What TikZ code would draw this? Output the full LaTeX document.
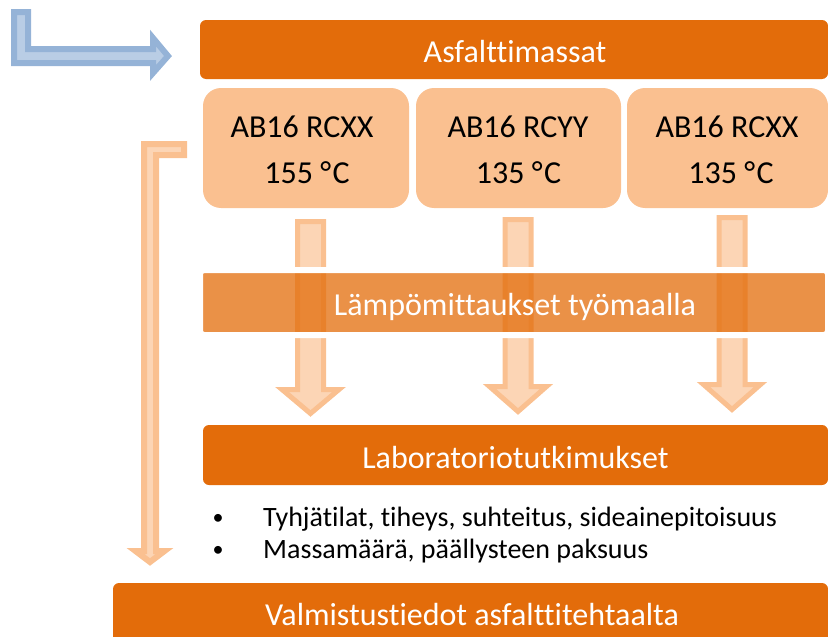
\documentclass[tikz,border=0pt]{standalone}
\usepackage{fontspec}
\setmainfont{Carlito}[Ligatures=NoCommon]
\definecolor{darkor}{HTML}{E36C0A}
\definecolor{lightbox}{HTML}{FAC090}
\definecolor{arrfill}{HTML}{FCD5B5}
\definecolor{arrline}{HTML}{FAC090}
\definecolor{blueline}{HTML}{95B3D7}
\definecolor{bluefill}{HTML}{B9CDE5}
\tikzset{
  darkbar/.style={fill=darkor, draw=none, rounded corners=6pt, inner sep=0pt, outer sep=0pt, anchor=north west},
  halfbar/.style={fill=darkor, fill opacity=0.75, draw=white, line width=6pt, rounded corners=4pt, inner sep=0pt, outer sep=0pt, anchor=north west},
  lightrect/.style={fill=lightbox, draw=none, rounded corners=18pt, inner sep=0pt, outer sep=0pt, anchor=north west},
  blockarrow/.style={fill=arrfill, draw=arrline, line width=5pt, line join=miter},
  bentarrow/.style={fill=arrfill, draw=arrline, line width=6pt, line join=miter},
  bluearrow/.style={fill=bluefill, draw=blueline, line width=6pt, line join=miter},
  bigw/.style={text=white, font=\fontsize{32pt}{38pt}\selectfont, inner sep=0pt, anchor=base},
  bigk/.style={text=black, font=\fontsize{32pt}{38pt}\selectfont, inner sep=0pt, anchor=base},
  bullk/.style={text=black, font=\fontsize{28pt}{34pt}\selectfont, inner sep=0pt},
  bulldot/.style={text=black, font=\fontsize{22pt}{26pt}\selectfont, inner sep=0pt},
}
\begin{document}
\begin{tikzpicture}[x=1pt, y=-1pt]
\useasboundingbox (0,0) rectangle (828,637);
% blue bent arrow
\draw[bluearrow] (14,12) -- (28,12) -- (28,49) -- (153,49) -- (153,38) -- (168,56) -- (153,73) -- (153,63) -- (14,63) -- cycle;
% top bar
\node[darkbar, minimum width=628pt, minimum height=59pt] (top) at (200,20) {};
\node[bigw] (toptxt) at (515,62.7) {Asfalttimassat};
% three light boxes
\node[lightrect, minimum width=206pt, minimum height=120pt] (b1) at (203,88) {};
\node[lightrect, minimum width=205pt, minimum height=120pt] (b2) at (416,88) {};
\node[lightrect, minimum width=201pt, minimum height=120pt] (b3) at (627,88) {};
\node[bigk] (b1a) at (302,137) {AB16 RCXX};
\node[bigk] (b1b) at (307,183) {155 °\kern1.5pt C};
\node[bigk] (b2a) at (518,137) {AB16 RCYY};
\node[bigk] (b2b) at (518.5,183) {135 °\kern1.5pt C};
\node[bigk] (b3a) at (727,137) {AB16 RCXX};
\node[bigk] (b3b) at (731,183) {135 °\kern1.5pt C};
% down block arrows
\foreach \cx/\st/\hd/\tp in {310.5/219/387/417, 518/217/384/415, 732/215/382/413}{
  \draw[blockarrow] ({\cx-13},{\st+2.5}) -- ({\cx+13},{\st+2.5}) -- ({\cx+13},{\hd+2.5}) -- ({\cx+28.5},{\hd+2.5}) -- (\cx,{\tp-3.5}) -- ({\cx-28.5},{\hd+2.5}) -- ({\cx-13},{\hd+2.5}) -- cycle;
}
% left bent arrow
\draw[bentarrow] (184,144) -- (184,155) -- (156,155) -- (156,551) -- (164.5,551) -- (150,562) -- (135.5,551) -- (144,551) -- (144,144) -- cycle;
% translucent bar
\node[halfbar, minimum width=628pt, minimum height=65pt] (heat) at (200,270) {};
\node[bigw] (heattxt) at (515,315) {Lämpömittaukset työmaalla};
% lab bar
\node[darkbar, minimum width=625pt, minimum height=60pt] (lab) at (203,425) {};
\node[bigw] (labtxt) at (515.5,468) {Laboratoriotutkimukset};
% bullets
\node[bulldot, anchor=base] (d1) at (218,524) {•};
\node[bullk, anchor=base west] (t1) at (263,526) {Tyhjätilat, tiheys, suhteitus, sideainepitoisuus};
\node[bulldot, anchor=base] (d2) at (218,556) {•};
\node[bullk, anchor=base west] (t2) at (263,558) {Massamäärä, päällysteen paksuus};
% bottom bar
\node[darkbar, minimum width=715pt, minimum height=70pt] (bot) at (113,583) {};
\node[bigw] (bottxt) at (472,625) {Valmistustiedot asfalttitehtaalta};
\end{tikzpicture}
\end{document}
